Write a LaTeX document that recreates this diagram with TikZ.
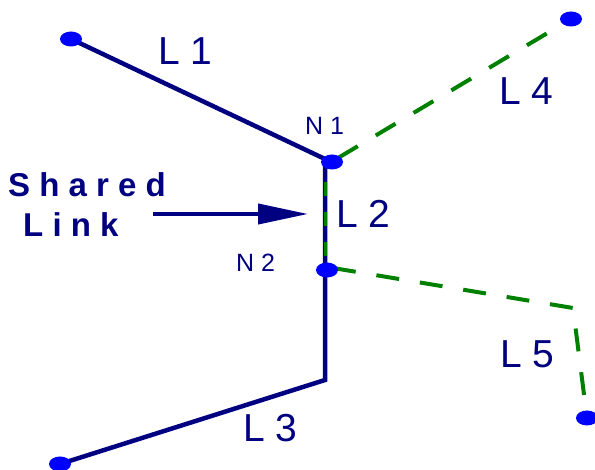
\documentclass[tikz,border=0pt]{standalone}
\usepackage{fontspec}
\setmainfont{Liberation Sans}
\usetikzlibrary{shapes.geometric,arrows.meta}
\definecolor{navyc}{RGB}{0,0,128}
\definecolor{dotc}{RGB}{0,0,255}
\definecolor{greenc}{RGB}{0,128,0}
\begin{document}
\begin{tikzpicture}[x=1pt,y=-1pt,
  link/.style={draw=navyc,line width=4.5pt},
  dashlink/.style={draw=greenc,line width=4pt,dash pattern=on 23pt off 21pt},
  sharedlink/.style={draw=greenc,line width=3pt,dash pattern=on 14pt off 16pt,dash phase=16pt},
  dot/.style={ellipse,fill=dotc,minimum width=22pt,minimum height=15pt,inner sep=0pt},
  biglab/.style={text=navyc,font=\fontsize{39}{39}\selectfont,anchor=base west,inner sep=0pt},
  smalllab/.style={text=navyc,font=\fontsize{25}{25}\selectfont,anchor=base west,inner sep=0pt},
  sharedlab/.style={text=navyc,font=\bfseries\fontsize{33}{33}\selectfont,anchor=base west,inner sep=0pt}]
\useasboundingbox (0,0) rectangle (595,470);
% junction and end points
\coordinate (a1) at (71,39);
\coordinate (j1) at (325,159);
\coordinate (j1b) at (325,168);
\coordinate (j2) at (325,268);
\coordinate (c3) at (325,380);
\coordinate (a3) at (60,464);
\coordinate (a4) at (571,19);
\coordinate (s1) at (338,158);
\coordinate (s2) at (333,268);
\coordinate (c5) at (573,308);
\coordinate (a5) at (587,418);
\coordinate (arS) at (153,214);
\coordinate (arE) at (308,214);
% links
\draw[link] (a1) -- (j1) -- (c3) -- (a3);
\draw[sharedlink] (j1b) -- (j2);
\draw[dashlink] (s1) -- (a4);
\draw[dashlink] (s2) -- (c5) -- (a5);
% arrow
\draw[draw=navyc,line width=4pt,-{Triangle[length=50pt,width=20pt]}] (arS) -- (arE);
% dots
\node[dot] (d1) at (a1) {};
\node[dot] (n1) at (332,162) {};
\node[dot] (n2) at (327,270) {};
\node[dot] (d3) at (a3) {};
\node[dot] (d4) at (a4) {};
\node[dot] (d5) at (a5) {};
% labels
\node[biglab] (l1) at (158,65) {L 1};
\node[biglab] (l2) at (336,228) {L 2};
\node[biglab] (l3) at (243,442) {L 3};
\node[biglab] (l4) at (499,105) {L 4};
\node[biglab] (l5) at (500,368) {L 5};
\node[smalllab] (t1) at (305,135) {N 1};
\node[smalllab] (t2) at (236,272) {N 2};
\node[sharedlab] (sh) at (8,197) {S h a r e d};
\node[sharedlab] (lk) at (23,237) {L i n k};
\end{tikzpicture}
\end{document}
